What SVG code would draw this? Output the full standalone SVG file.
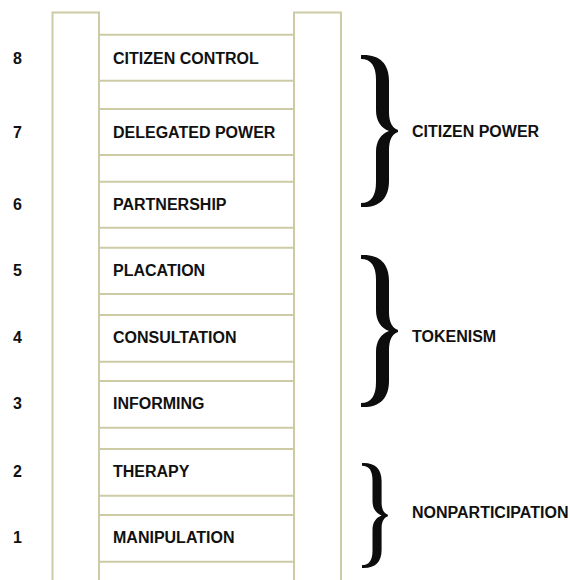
<svg xmlns="http://www.w3.org/2000/svg" xmlns:xlink="http://www.w3.org/1999/xlink" width="570" height="580" viewBox="0 0 570 580">
<style>
.ln{stroke:#cdcba6;stroke-width:2;fill:none}
.t{font-family:"Liberation Sans",Arial,sans-serif;font-weight:bold;font-size:16px;fill:#111}
.br{fill:#0d0d0d}
</style>
<defs>
<path id="brace" d="M0,0 C18,-1 28,8 28,26 L28,57 C28,67 31,73 37,75 L37,77 C31,79 28,85 28,95 L28,126 C28,144 18,153 0,152 L0,148 C10,148 15,141 15,127 L15,97 C15,86 20,79 28,76 C20,73 15,66 15,55 L15,25 C15,11 10,4 0,4 Z"/>
</defs>
<rect width="570" height="580" fill="#fff"/>
<g id="ladder">
<path class="ln" d="M52.5,581 V12.5 H99 V581"/>
<path class="ln" d="M294,581 V12.5 H341 V581"/>
</g>
<g id="rung8"><path class="ln" d="M99,34.7 H294 M99,80.7 H294"/><text class="t" x="13" y="63.5">8</text><text class="t" x="113" y="63.5">CITIZEN CONTROL</text></g>
<g id="rung7"><path class="ln" d="M99,109 H294 M99,155 H294"/><text class="t" x="13" y="137.5">7</text><text class="t" x="113" y="137.5">DELEGATED POWER</text></g>
<g id="rung6"><path class="ln" d="M99,181.7 H294 M99,227.7 H294"/><text class="t" x="13" y="209.5">6</text><text class="t" x="113" y="209.5">PARTNERSHIP</text></g>
<g id="rung5"><path class="ln" d="M99,247.7 H294 M99,294 H294"/><text class="t" x="13" y="276">5</text><text class="t" x="113" y="276">PLACATION</text></g>
<g id="rung4"><path class="ln" d="M99,315 H294 M99,361.7 H294"/><text class="t" x="13" y="343">4</text><text class="t" x="113" y="343">CONSULTATION</text></g>
<g id="rung3"><path class="ln" d="M99,381 H294 M99,427.7 H294"/><text class="t" x="13" y="409">3</text><text class="t" x="113" y="409">INFORMING</text></g>
<g id="rung2"><path class="ln" d="M99,449 H294 M99,495.7 H294"/><text class="t" x="13" y="477">2</text><text class="t" x="113" y="477">THERAPY</text></g>
<g id="rung1"><path class="ln" d="M99,515 H294 M99,561.7 H294"/><text class="t" x="13" y="543">1</text><text class="t" x="113" y="543">MANIPULATION</text></g>
<g id="connectors">
<use xlink:href="#brace" class="br" transform="translate(361,55)"/>
<use xlink:href="#brace" class="br" transform="translate(361,255)"/>
<use xlink:href="#brace" class="br" transform="translate(362,463) scale(0.7,0.69)"/>
</g>
<g id="group-citizen-power"><text class="t" x="412" y="136.5">CITIZEN POWER</text></g>
<g id="group-tokenism"><text class="t" x="412" y="341.5">TOKENISM</text></g>
<g id="group-nonparticipation"><text class="t" x="412" y="518">NONPARTICIPATION</text></g>
</svg>
